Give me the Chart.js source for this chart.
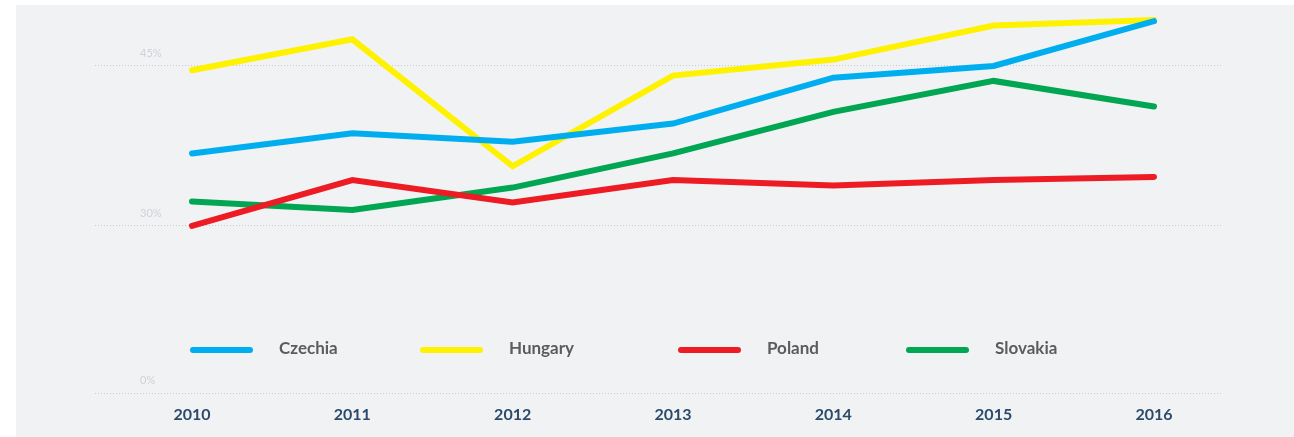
<!DOCTYPE html>
<html>
<head>
<meta charset="utf-8">
<title>V4 share</title>
<script src="https://cdn.jsdelivr.net/npm/chart.js@4.4.1/dist/chart.umd.min.js"></script>
<style>
    html, body { margin: 0; padding: 0; background: #fff; width: 1294px; height: 437px; overflow: hidden; }
    #panel { position: absolute; left: 16px; top: 5px; width: 1300px; height: 440px; background: #f0f2f4; }
    canvas { display: block; }
</style>
</head>
<body>
<div id="panel"><canvas id="chart" width="1278" height="432"></canvas></div>
<script>
// data (percent)
const years = [2010, 2011, 2012, 2013, 2014, 2015, 2016];
const czechia = [36.8, 38.7, 37.9, 39.6, 43.9, 45.0, 49.2];
const hungary = [44.6, 47.5, 35.6, 44.1, 45.6, 48.8, 49.3];
const poland = [30.0, 34.3, 32.2, 34.3, 33.8, 34.3, 34.6];
const slovakia = [32.3, 31.5, 33.6, 36.8, 40.7, 43.6, 41.2];

const seriesNames = ["Czechia", "Hungary", "Poland", "Slovakia"];
const seriesColors = ["#00aeef", "#fff200", "#ed1c24", "#00a651"];

// y axis is broken: the "0%" baseline is drawn at the foot, the scale itself starts near 14%
const Y_BASE = 14.34;
const yTickValues = [Y_BASE, 30, 45];
const yTickLabels = ["0%", "30%", "45%"];

const FONT = "Lato, 'Open Sans', sans-serif";

const toPoints = (vals) => vals.map((v, i) => ({ x: years[i], y: v }));

// legend drawn inside the plot, like the original
const legendX = [174, 404, 662, 890];
const insideLegend = {
    id: "insideLegend",
    afterDraw: function (chart) {
        const ctx = chart.ctx;
        const y = 345;
        ctx.save();
        chart.data.datasets.forEach((ds, i) => {
            const x = legendX[i];
            ctx.strokeStyle = ds.borderColor;
            ctx.lineWidth = 6;
            ctx.lineCap = "round";
            ctx.beginPath();
            ctx.moveTo(x + 3, y);
            ctx.lineTo(x + 60, y);
            ctx.stroke();
            ctx.fillStyle = "#5c5c5c";
            ctx.font = "bold 17px " + FONT;
            ctx.textBaseline = "middle";
            ctx.textAlign = "left";
            ctx.fillText(ds.label, x + 89, y - 1);
        });
        ctx.restore();
    },
};

const series = [czechia, hungary, poland, slovakia];

new Chart(document.getElementById("chart"), {
    type: "line",
    data: {
        datasets: series.map((vals, i) => ({
            label: seriesNames[i],
            data: toPoints(vals),
            borderColor: seriesColors[i],
            backgroundColor: seriesColors[i],
            borderWidth: 6,
            borderCapStyle: "round",
            pointRadius: 0,
            tension: 0,
            fill: false,
        })),
    },
    options: {
        responsive: false,
        animation: false,
        devicePixelRatio: 1,
        layout: { autoPadding: false, padding: { top: 2, right: 73, left: 0, bottom: 0 } },
        plugins: {
            legend: { display: false },
            tooltip: { enabled: false },
        },
        scales: {
            x: {
                type: "linear",
                min: 2009.395,
                max: 2016.418,
                afterBuildTicks: function (scale) {
                    scale.ticks = years.map((v) => ({ value: v }));
                },
                afterFit: function (scale) {
                    scale.height = 44;
                    scale.paddingLeft = 0;
                    scale.paddingRight = 0;
                },
                grid: { display: false, drawTicks: false },
                border: { display: false },
                ticks: {
                    padding: 12,
                    color: "#2d4a6b",
                    font: { family: FONT, size: 16, weight: "bold" },
                    callback: (v) => String(v),
                },
            },
            y: {
                type: "linear",
                min: Y_BASE,
                max: 50.53,
                afterBuildTicks: function (scale) {
                    scale.ticks = yTickValues.map((v) => ({ value: v }));
                },
                afterFit: function (scale) {
                    // mirrored labels: keep the tick padding from eating the plot height
                    scale.width = 79;
                    scale.paddingTop = 0;
                    scale.paddingBottom = 0;
                },
                grid: {
                    color: "#c9cbce",
                    lineWidth: 1,
                    drawTicks: false,
                },
                border: { display: false, dash: [1, 2] },
                ticks: {
                    mirror: true,
                    padding: 45,
                    labelOffset: -13,
                    color: "#cfd2d6",
                    font: { family: FONT, size: 11 },
                    callback: (v, i) => yTickLabels[i],
                },
            },
        },
    },
    plugins: [insideLegend],
});
</script>
</body>
</html>
